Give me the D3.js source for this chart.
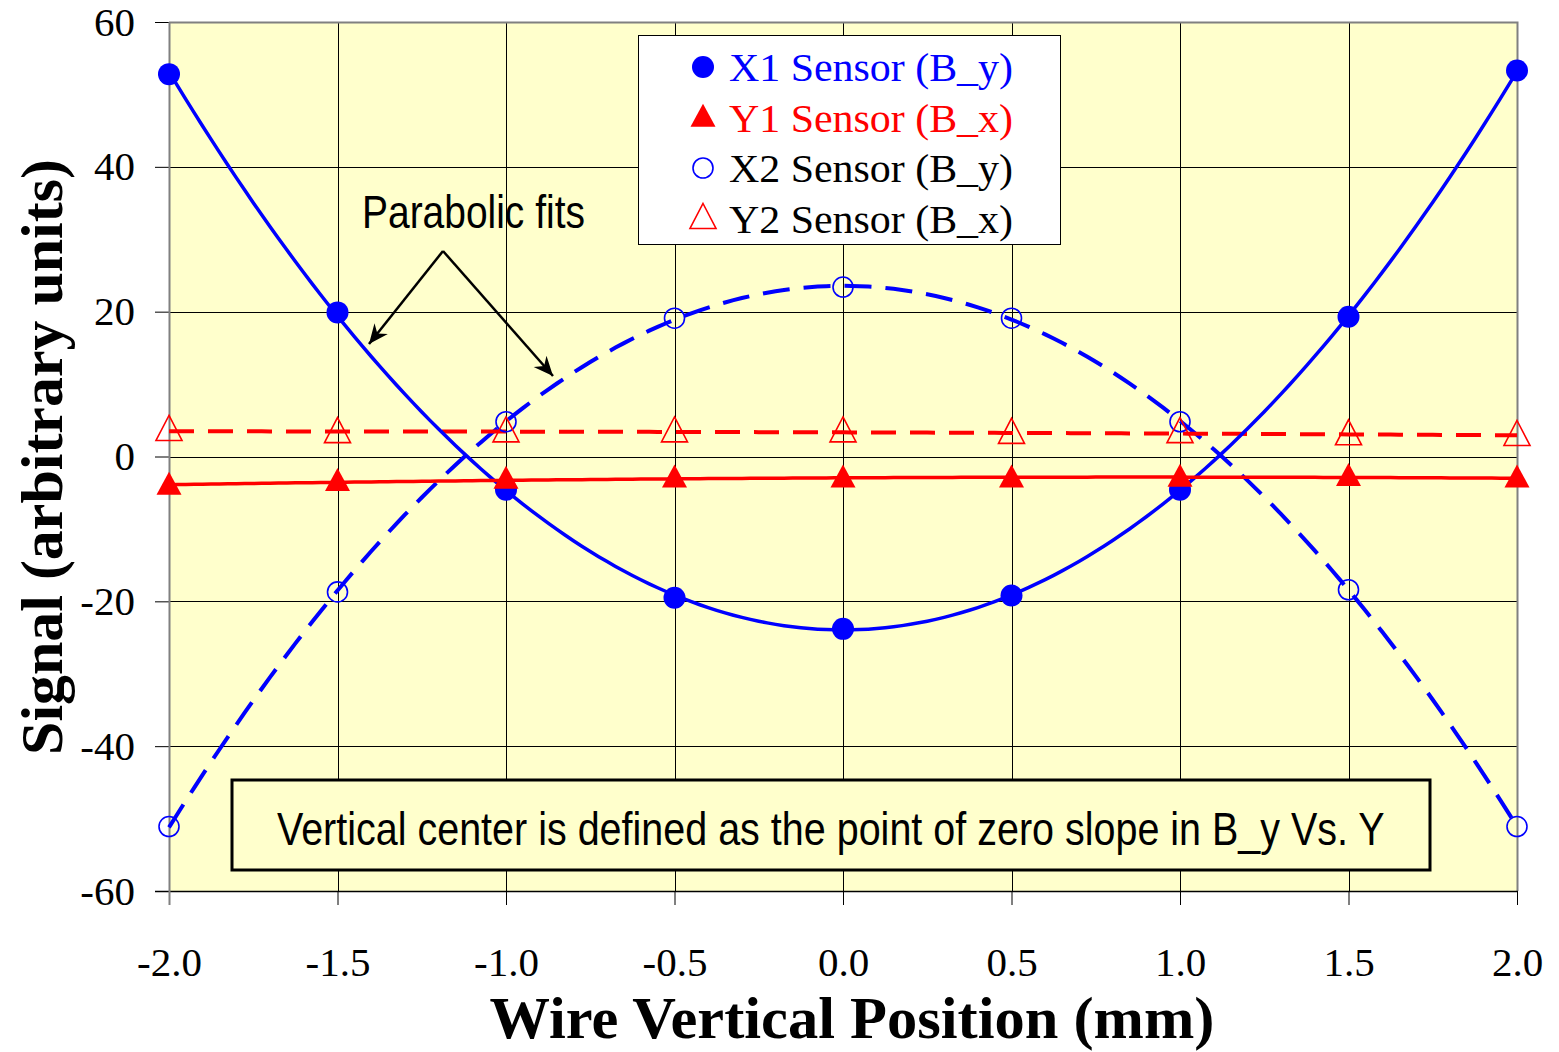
<!DOCTYPE html>
<html>
<head>
<meta charset="utf-8">
<script src="https://cdn.jsdelivr.net/npm/d3@7"></script>
<style>
  html, body { margin: 0; padding: 0; background: #fff; }
  svg { display: block; }
</style>
</head>
<body>
<svg id="chart" width="1559" height="1052"></svg>
<script>
// Wire positions (mm) and sensor readings (arbitrary units)
const positions = [-2.0, -1.5, -1.0, -0.5, 0.0, 0.5, 1.0, 1.5, 2.0];
const x1Signal = [52.8, 19.9, -4.6, -19.5, -23.8, -19.2, -4.6, 19.3, 53.3];
const y1Signal = [-4.0, -3.5, -3.2, -3.0, -3.0, -3.0, -2.9, -2.8, -3.0];
const x2Signal = [-51.1, -18.7, 4.8, 19.1, 23.4, 19.1, 4.8, -18.4, -51.1];
const y2Signal = [3.6, 3.3, 3.4, 3.4, 3.4, 3.2, 3.3, 3.0, 2.9];

const xTicks = [-2.0, -1.5, -1.0, -0.5, 0.0, 0.5, 1.0, 1.5, 2.0];
const yTicks = [-60, -40, -20, 0, 20, 40, 60];

const seriesNames = ["X1 Sensor (B_y)", "Y1 Sensor (B_x)", "X2 Sensor (B_y)", "Y2 Sensor (B_x)"];
const seriesValues = [x1Signal, y1Signal, x2Signal, y2Signal];

const annotationText = "Vertical center is defined as the point of zero slope in B_y Vs. Y";
const fitLabel = "Parabolic fits";
const xTitle = "Wire Vertical Position (mm)";
const yTitle = "Signal (arbitrary units)";

const svg = d3.select("#chart");
const plot = { left: 169, right: 1517, top: 22, bottom: 891 };

const x = d3.scaleLinear().domain([-2, 2]).range([plot.left, plot.right]);
const y = d3.scaleLinear().domain([-60, 60]).range([plot.bottom, plot.top]);

// Least-squares quadratic fit a + b*t + c*t^2
function quadFit(xs, ys) {
  const n = xs.length;
  let s = [0, 0, 0, 0, 0], t = [0, 0, 0];
  for (let i = 0; i < n; i++) {
    const xi = xs[i], yi = ys[i];
    for (let k = 0; k < 5; k++) s[k] += Math.pow(xi, k);
    for (let k = 0; k < 3; k++) t[k] += yi * Math.pow(xi, k);
  }
  const M = [[s[0], s[1], s[2], t[0]], [s[1], s[2], s[3], t[1]], [s[2], s[3], s[4], t[2]]];
  for (let i = 0; i < 3; i++) {
    let p = i;
    for (let r = i + 1; r < 3; r++) if (Math.abs(M[r][i]) > Math.abs(M[p][i])) p = r;
    [M[i], M[p]] = [M[p], M[i]];
    for (let r = 0; r < 3; r++) {
      if (r === i) continue;
      const f = M[r][i] / M[i][i];
      for (let c = i; c < 4; c++) M[r][c] -= f * M[i][c];
    }
  }
  const coef = [M[0][3] / M[0][0], M[1][3] / M[1][1], M[2][3] / M[2][2]];
  return v => coef[0] + coef[1] * v + coef[2] * v * v;
}

// Text fitted to a given width with a horizontal scale transform
function fittedText(parent, str, opts) {
  const g = parent.append("g");
  const t = g.append("text")
    .attr("font-family", opts.family).attr("font-size", opts.size)
    .attr("font-weight", opts.weight || "normal")
    .attr("fill", opts.fill || "#000")
    .text(str);
  const natural = t.node().getComputedTextLength();
  const sx = opts.width / natural;
  t.attr("text-anchor", opts.anchor || "start");
  const rot = opts.rotate ? ` rotate(${opts.rotate})` : "";
  g.attr("transform", `translate(${opts.x},${opts.y})${rot} scale(${sx},1)`);
  return g;
}

// Plot background
svg.append("rect")
  .attr("x", plot.left).attr("y", plot.top)
  .attr("width", plot.right - plot.left).attr("height", plot.bottom - plot.top)
  .attr("fill", "#FFFFCC");

// Grid
const grid = svg.append("g").attr("stroke", "#000").attr("stroke-width", 1).attr("shape-rendering", "crispEdges");
grid.selectAll(".gx").data(xTicks.slice(1, -1)).enter().append("line")
  .attr("x1", d => Math.round(x(d)) + 0.5).attr("x2", d => Math.round(x(d)) + 0.5)
  .attr("y1", plot.top).attr("y2", plot.bottom);
grid.selectAll(".gy").data(yTicks.slice(1, -1)).enter().append("line")
  .attr("x1", plot.left).attr("x2", plot.right)
  .attr("y1", d => Math.round(y(d)) + 0.5).attr("y2", d => Math.round(y(d)) + 0.5);

// Plot frame (top/right grey)
svg.append("path")
  .attr("d", `M${plot.left},${plot.top + 0.5}H${plot.right + 0.5}V${plot.bottom}`)
  .attr("fill", "none").attr("stroke", "#808080").attr("stroke-width", 2);

// Axes (plain hyphen for negative numbers)
const serif = "'Liberation Serif', 'Times New Roman', serif";
const sans = "'Liberation Sans', Arial, sans-serif";
const fmtX = d => d3.format(".1f")(d).replace("\u2212", "-");
const fmtY = d => String(d);
const xAxis = d3.axisBottom(x).tickValues(xTicks).tickFormat(fmtX).tickSize(14).tickPadding(57);
const yAxis = d3.axisLeft(y).tickValues(yTicks).tickFormat(fmtY).tickSize(14).tickPadding(20);

const gx = svg.append("g").attr("transform", `translate(0,${plot.bottom})`).call(xAxis);
const gy = svg.append("g").attr("transform", `translate(${plot.left},0)`).call(yAxis);
[gx, gy].forEach(g => {
  g.select(".domain").remove();
  g.selectAll(".tick line").attr("stroke", "#000").attr("stroke-width", 1);
  g.selectAll("text").attr("font-family", serif).attr("font-size", 41).attr("fill", "#000");
});
gx.selectAll("text").attr("dy", "0.35em");
// axis lines
svg.append("line").attr("x1", plot.left - 14).attr("x2", plot.right + 1)
  .attr("y1", plot.bottom + 0.5).attr("y2", plot.bottom + 0.5)
  .attr("stroke", "#000").attr("stroke-width", 1.5);
svg.append("line").attr("x1", plot.left + 0.5).attr("x2", plot.left + 0.5)
  .attr("y1", plot.top).attr("y2", plot.bottom + 14)
  .attr("stroke", "#808080").attr("stroke-width", 2);

// Axis titles
fittedText(svg, xTitle, { family: serif, weight: "bold", size: 60, width: 725, x: 852, y: 1038, anchor: "middle" });
fittedText(svg, yTitle, { family: serif, weight: "bold", size: 60, width: 596, x: 62, y: 457, anchor: "middle", rotate: -90 });

// Annotation box
svg.append("rect")
  .attr("x", 232).attr("y", 780).attr("width", 1198).attr("height", 90)
  .attr("fill", "#FFFFCC").attr("stroke", "#000").attr("stroke-width", 3);
fittedText(svg, annotationText, { family: sans, size: 46, width: 1108, x: 277, y: 845 });

// Fitted curves
const sample = d3.range(-2, 2.0001, 0.025);
const lineGen = d3.line().x(d => x(d[0])).y(d => y(d[1]));
const styles = [
  { color: "#0000FF", dash: null, width: 3.5 },
  { color: "#FF0000", dash: null, width: 3.5 },
  { color: "#0000FF", dash: "27,14", width: 4 },
  { color: "#FF0000", dash: "25,14", width: 4 }
];
const drawOrder = [2, 3, 0, 1];
drawOrder.forEach(i => {
  const f = quadFit(positions, seriesValues[i]);
  svg.append("path")
    .datum(sample.map(v => [v, f(v)]))
    .attr("d", lineGen)
    .attr("fill", "none")
    .attr("stroke", styles[i].color)
    .attr("stroke-width", styles[i].width)
    .attr("stroke-dasharray", styles[i].dash);
});

// Marker shapes
function triPath(w, h) {
  return `M0,${-h * 0.6}L${w / 2},${h * 0.4}L${-w / 2},${h * 0.4}Z`;
}
function drawMarker(g, kind) {
  if (kind === 0) g.append("circle").attr("r", 11).attr("fill", "#0000FF");
  if (kind === 1) g.append("path").attr("d", triPath(25, 23)).attr("fill", "#FF0000");
  if (kind === 2) g.append("circle").attr("r", 10).attr("fill", "none").attr("stroke", "#0000FF").attr("stroke-width", 1.6);
  if (kind === 3) g.append("path").attr("d", triPath(26, 25)).attr("fill", "none").attr("stroke", "#FF0000").attr("stroke-width", 1.6);
}
drawOrder.forEach(i => {
  seriesValues[i].forEach((v, j) => {
    const g = svg.append("g").attr("transform", `translate(${x(positions[j])},${y(v)})`);
    drawMarker(g, i);
  });
});

// Legend
const legend = svg.append("g");
legend.append("rect")
  .attr("x", 638.5).attr("y", 35.5).attr("width", 422).attr("height", 209)
  .attr("fill", "#fff").attr("stroke", "#000").attr("stroke-width", 1);
const legendColors = ["#0000FF", "#FF0000", "#000", "#000"];
seriesNames.forEach((name, i) => {
  const cy = 67 + i * 50.5;
  const g = legend.append("g").attr("transform", `translate(703,${cy})`);
  drawMarker(g, i);
  fittedText(legend, name, { family: serif, size: 40, width: 284, x: 729, y: cy + 14, fill: legendColors[i] });
});

// "Parabolic fits" label with arrows
svg.append("defs").append("marker")
  .attr("id", "arrowhead")
  .attr("viewBox", "-16 -9 18 18")
  .attr("refX", 0).attr("refY", 0)
  .attr("markerWidth", 22).attr("markerHeight", 22)
  .attr("markerUnits", "userSpaceOnUse")
  .attr("orient", "auto")
  .append("path")
  .attr("d", "M0,0L-16,-7L-11,0L-16,7Z")
  .attr("fill", "#000");

fittedText(svg, fitLabel, { family: sans, size: 46, width: 223, x: 362, y: 228 });
const arrows = [[443, 251, 369, 344], [443, 251, 553, 376]];
svg.selectAll(".arrow").data(arrows).enter().append("line")
  .attr("x1", d => d[0]).attr("y1", d => d[1])
  .attr("x2", d => d[2]).attr("y2", d => d[3])
  .attr("stroke", "#000").attr("stroke-width", 2.5)
  .attr("marker-end", "url(#arrowhead)");
</script>
</body>
</html>
